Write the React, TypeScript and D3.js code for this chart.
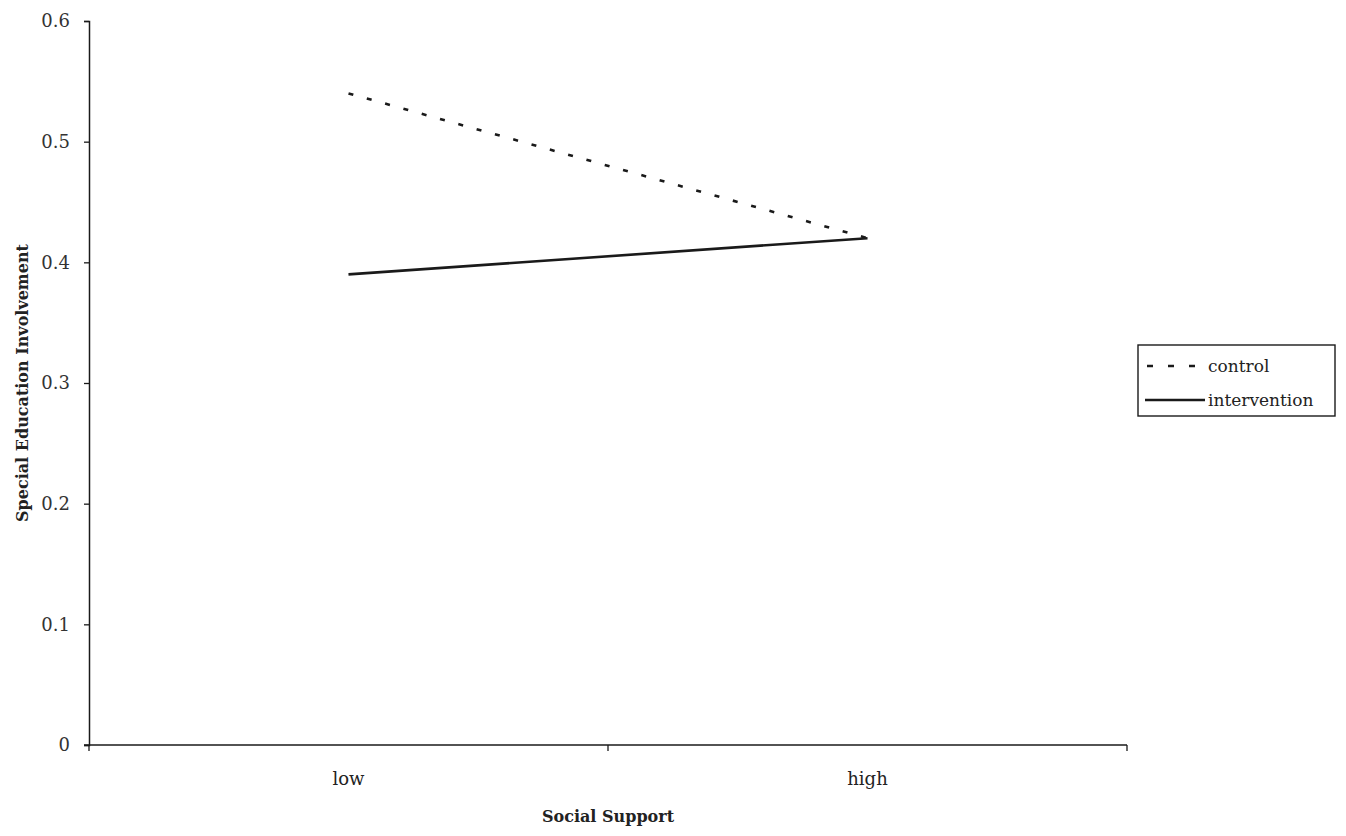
import { useEffect, useRef } from "react";
import * as d3 from "d3";

// categories on the x axis
const categories = ["low", "high"];

// series values (Special Education Involvement)
const controlValues = [0.54, 0.42];
const interventionValues = [0.39, 0.42];

// y tick labels
const yTicks = [0, 0.1, 0.2, 0.3, 0.4, 0.5, 0.6];

const seriesNames = ["control", "intervention"];

const width = 1346;
const height = 836;
const margin = { top: 21, right: 219, bottom: 91, left: 89 };

export default function App() {
    const ref = useRef<SVGSVGElement>(null);

    useEffect(() => {
        const svg = d3.select(ref.current);
        svg.selectAll("*").remove();

        const font = "'DejaVu Serif', 'Liberation Serif', serif";
        const ink = "#1a1a1a";

        const x = d3.scaleBand()
            .domain(categories)
            .range([margin.left, width - margin.right]);

        const y = d3.scaleLinear()
            .domain([0, 0.6])
            .range([height - margin.bottom, margin.top]);

        // y axis
        const yAxis = svg.append("g")
            .attr("transform", `translate(${margin.left},0)`)
            .call(d3.axisLeft(y).tickValues(yTicks).tickSize(5).tickPadding(14)
                .tickFormat(d => d3.format("")(d as number)));
        yAxis.select(".domain").attr("stroke", ink).attr("stroke-width", 1.5);
        yAxis.selectAll(".tick line").attr("stroke", ink).attr("stroke-width", 1.3);
        yAxis.selectAll("text")
            .attr("font-family", font)
            .attr("font-size", 18)
            .attr("fill", "#333");

        // x axis: ticks on band boundaries
        const boundaries = [margin.left, margin.left + x.bandwidth(), width - margin.right];
        const xAxis = svg.append("g");
        xAxis.append("line")
            .attr("x1", margin.left - 5).attr("x2", width - margin.right)
            .attr("y1", y(0)).attr("y2", y(0))
            .attr("stroke", ink).attr("stroke-width", 1.5);
        xAxis.selectAll("line.tick")
            .data(boundaries)
            .join("line")
            .attr("class", "tick")
            .attr("x1", d => d).attr("x2", d => d)
            .attr("y1", y(0)).attr("y2", y(0) + 6)
            .attr("stroke", ink).attr("stroke-width", 1.3);
        xAxis.selectAll("text")
            .data(categories)
            .join("text")
            .attr("x", d => x(d)! + x.bandwidth() / 2)
            .attr("y", y(0) + 40)
            .attr("text-anchor", "middle")
            .attr("font-family", font)
            .attr("font-size", 18)
            .attr("fill", "#222")
            .text(d => d);

        // axis titles
        svg.append("text")
            .attr("x", (margin.left + width - margin.right) / 2)
            .attr("y", 822)
            .attr("text-anchor", "middle")
            .attr("font-family", font)
            .attr("font-size", 16)
            .attr("font-weight", "bold")
            .attr("fill", "#222")
            .text("Social Support");

        svg.append("text")
            .attr("transform", `translate(28,${(margin.top + height - margin.bottom) / 2}) rotate(-90)`)
            .attr("text-anchor", "middle")
            .attr("font-family", font)
            .attr("font-size", 16)
            .attr("font-weight", "bold")
            .attr("fill", "#222")
            .text("Special Education Involvement");

        // lines
        const line = d3.line<number>()
            .x((_, i) => x(categories[i])! + x.bandwidth() / 2)
            .y(d => y(d));

        svg.append("path")
            .datum(controlValues)
            .attr("d", line)
            .attr("fill", "none")
            .attr("stroke", ink)
            .attr("stroke-width", 2.6)
            .attr("stroke-dasharray", "5 14");

        svg.append("path")
            .datum(interventionValues)
            .attr("d", line)
            .attr("fill", "none")
            .attr("stroke", ink)
            .attr("stroke-width", 2.6);

        // legend
        const legend = svg.append("g").attr("transform", "translate(1138,345)");
        legend.append("rect")
            .attr("width", 197).attr("height", 71)
            .attr("fill", "white").attr("stroke", ink).attr("stroke-width", 1.4);
        const items = legend.selectAll("g.item")
            .data(seriesNames)
            .join("g")
            .attr("class", "item")
            .attr("transform", (_, i) => `translate(0,${21 + i * 34})`);
        items.append("line")
            .attr("x1", (_, i) => i === 0 ? 9 : 7)
            .attr("x2", (_, i) => i === 0 ? 60 : 67)
            .attr("stroke", ink)
            .attr("stroke-width", 2.6)
            .attr("stroke-dasharray", (_, i) => i === 0 ? "6 15" : null);
        items.append("text")
            .attr("x", 70)
            .attr("y", 6)
            .attr("font-family", font)
            .attr("font-size", 17)
            .attr("fill", "#222")
            .text(d => d);
    }, []);

    return <svg ref={ref} width={width} height={height} style={{ display: "block", margin: -8 }} />;
}
